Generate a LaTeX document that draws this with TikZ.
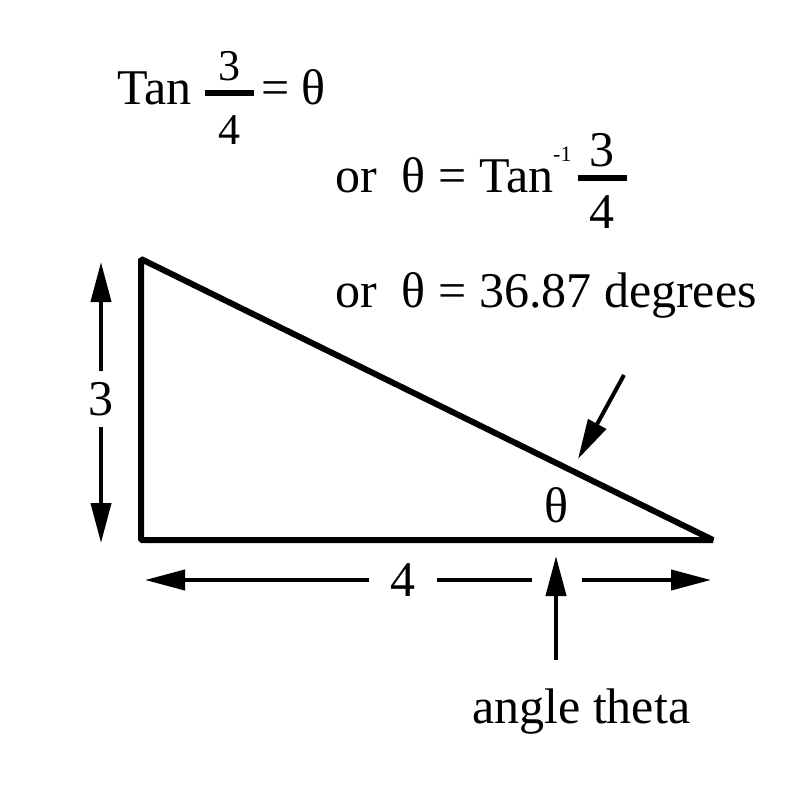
\documentclass[tikz,border=0pt]{standalone}
\usepackage{fontspec}
\setmainfont{Liberation Serif}
\usetikzlibrary{arrows.meta}

\begin{document}
\begin{tikzpicture}[x=1pt, y=-1pt,
  side/.style={line width=6pt, line join=bevel},
  dimarrow/.style={line width=4pt, -{Triangle[length=40pt, width=20pt]}},
  dimline/.style={line width=4pt},
  fracbar/.style={line width=6pt},
  txt/.style={inner sep=0pt, font=\fontsize{50}{58}\selectfont},
  numtxt/.style={inner sep=0pt, font=\fontsize{44}{50}\selectfont},
  dimlabel/.style={inner xsep=21pt, inner ysep=11pt, font=\fontsize{50}{58}\selectfont}]
  %%%%% START %%%%%
  \useasboundingbox (0,0) rectangle (800,800);

  % Tan 3/4 = theta
  \node[txt, anchor=base west] (tan) at (117,104) {Tan};
  \node[numtxt] (numa) at (229,66) {3};
  \node[numtxt] (dena) at (229,130) {4};
  \draw[fracbar] (205,93) -- (254,93);
  \node[txt, anchor=base west] (eqa) at (261,104) {= θ};

  % or theta = Tan^-1 3/4
  \node[txt, anchor=base west] (inv) at (335,192) {or\ \ θ = Tan\raisebox{0.62em}{\fontsize{22}{22}\selectfont -1}};
  \node[txt] (numb) at (602,150) {3};
  \node[txt] (denb) at (602,212) {4};
  \draw[fracbar] (578,178) -- (627,178);

  % or theta = 36.87 degrees
  \node[txt, anchor=base west] (deg) at (335,307) {or\ \ θ = 36.87 degrees};

  % triangle
  \coordinate (A) at (141,259);
  \coordinate (B) at (141,540);
  \coordinate (C) at (713,540);
  \draw[side] (A) -- (B) -- (C) -- cycle;
  \node[txt] (theta) at (556,505) {θ};

  % side 3
  \node[dimlabel, inner xsep=0pt] (lblh) at (101,399) {3};
  \coordinate (toph) at (101,262);
  \coordinate (both) at (101,543);
  \draw[dimarrow] (lblh) -- (toph);
  \draw[dimarrow] (lblh) -- (both);

  % side 4
  \node[dimlabel, inner ysep=0pt] (lblw) at (403,580) {4};
  \coordinate (leftw) at (145,580);
  \coordinate (midw) at (532,580);
  \coordinate (gapw) at (582,580);
  \coordinate (rightw) at (711,580);
  \draw[dimarrow] (lblw) -- (leftw);
  \draw[dimline] (lblw) -- (midw);
  \draw[dimarrow] (gapw) -- (rightw);

  % pointers to the angle
  \coordinate (diagtail) at (624,375);
  \coordinate (diagtip) at (578,459);
  \draw[dimarrow] (diagtail) -- (diagtip);
  \coordinate (uptail) at (556,660);
  \coordinate (uptip) at (556,556);
  \draw[dimarrow] (uptail) -- (uptip);

  \node[txt, anchor=base west] (angtxt) at (472,723) {angle theta};
  %%%%% END %%%%%
\end{tikzpicture}
\end{document}
